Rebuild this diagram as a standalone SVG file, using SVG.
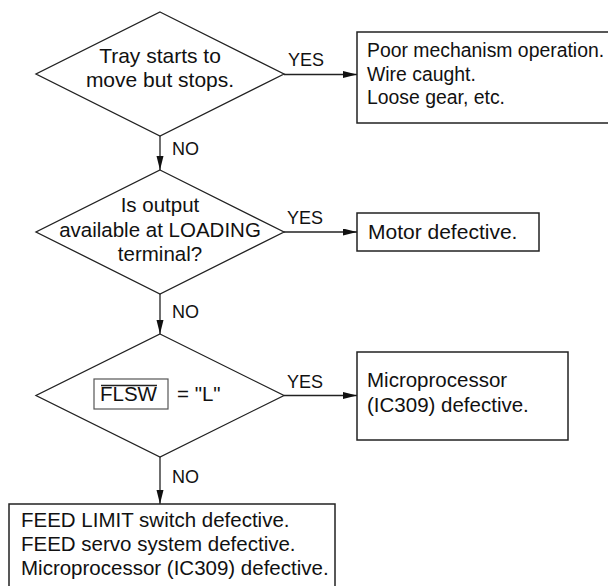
<svg xmlns="http://www.w3.org/2000/svg" width="608" height="586" viewBox="0 0 608 586">
  <style>
    .shape { fill: #fff; stroke: #222; stroke-width: 1.3; }
    .box { fill: #fff; stroke: #222; stroke-width: 1.5; }
    .sig { fill: none; stroke: #555; stroke-width: 1.2; }
    .link { fill: none; stroke: #222; stroke-width: 1.3; }
    text { font-family: "Liberation Sans", Arial, sans-serif; font-size: 20.5px; fill: #111; }
    .mid { text-anchor: middle; }
    .lbl { font-size: 18px; }
    .big { font-size: 21px; }
    .narrow { font-size: 19.4px; }
  </style>
  <defs>
    <marker id="arrow" markerUnits="userSpaceOnUse" markerWidth="15" markerHeight="8" refX="14" refY="3.5" orient="auto">
      <path d="M0,0 L14,3.5 L0,7 z" fill="#111"/>
    </marker>
  </defs>

  <!-- connectors -->
  <g id="connectors">
    <line class="link" x1="284" y1="74.5" x2="357" y2="74.5" marker-end="url(#arrow)"/>
    <text class="lbl" x="288" y="66">YES</text>
    <line class="link" x1="160" y1="136" x2="160" y2="170" marker-end="url(#arrow)"/>
    <text class="lbl" x="172" y="155">NO</text>

    <line class="link" x1="284" y1="232" x2="357" y2="232" marker-end="url(#arrow)"/>
    <text class="lbl" x="287" y="224">YES</text>
    <line class="link" x1="160" y1="294" x2="160" y2="334" marker-end="url(#arrow)"/>
    <text class="lbl" x="172" y="318">NO</text>

    <line class="link" x1="284" y1="395.5" x2="357" y2="395.5" marker-end="url(#arrow)"/>
    <text class="lbl" x="287" y="388">YES</text>
    <line class="link" x1="160" y1="457" x2="160" y2="504" marker-end="url(#arrow)"/>
    <text class="lbl" x="172" y="483">NO</text>
  </g>

  <!-- decision: tray movement -->
  <g id="q-tray">
    <polygon class="shape" points="160,12 284,74 160,136 36,74"/>
    <text class="mid big" x="160" y="63">Tray starts to</text>
    <text class="mid big" x="160" y="87">move but stops.</text>
  </g>

  <!-- result: mechanism -->
  <g id="r-mechanism">
    <rect class="box" x="357" y="32" width="260" height="91"/>
    <text class="narrow" x="367" y="57">Poor mechanism operation.</text>
    <text class="narrow" x="367" y="81">Wire caught.</text>
    <text class="narrow" x="367" y="104">Loose gear, etc.</text>
  </g>

  <!-- decision: LOADING output -->
  <g id="q-loading">
    <polygon class="shape" points="160,170 284,232 160,294 36,232"/>
    <text class="mid" x="160" y="212">Is output</text>
    <text class="mid" x="160" y="237" font-size="20">available at LOADING</text>
    <text class="mid" x="160" y="261">terminal?</text>
  </g>

  <!-- result: motor -->
  <g id="r-motor">
    <rect class="box" x="357" y="213" width="182" height="38"/>
    <text class="big" x="368" y="238.5">Motor defective.</text>
  </g>

  <!-- decision: FLSW level -->
  <g id="q-flsw">
    <polygon class="shape" points="160,334 284,395.5 160,457 36,395.5"/>
    <rect class="sig" x="94" y="379" width="74" height="30"/>
    <line class="link" x1="101" y1="385.5" x2="157" y2="385.5" stroke-width="1.1"/>
    <text x="100" y="401">FLSW</text>
    <text x="177" y="401">= "L"</text>
  </g>

  <!-- result: microprocessor -->
  <g id="r-micro">
    <rect class="box" x="357" y="352" width="211" height="88"/>
    <text x="367" y="387">Microprocessor</text>
    <text x="367" y="412">(IC309) defective.</text>
  </g>

  <!-- result: feed limit / servo -->
  <g id="r-feed">
    <rect class="box" x="9" y="504" width="326" height="100"/>
    <text x="21" y="527">FEED LIMIT switch defective.</text>
    <text x="21" y="551">FEED servo system defective.</text>
    <text x="21" y="575">Microprocessor (IC309) defective.</text>
  </g>
</svg>
